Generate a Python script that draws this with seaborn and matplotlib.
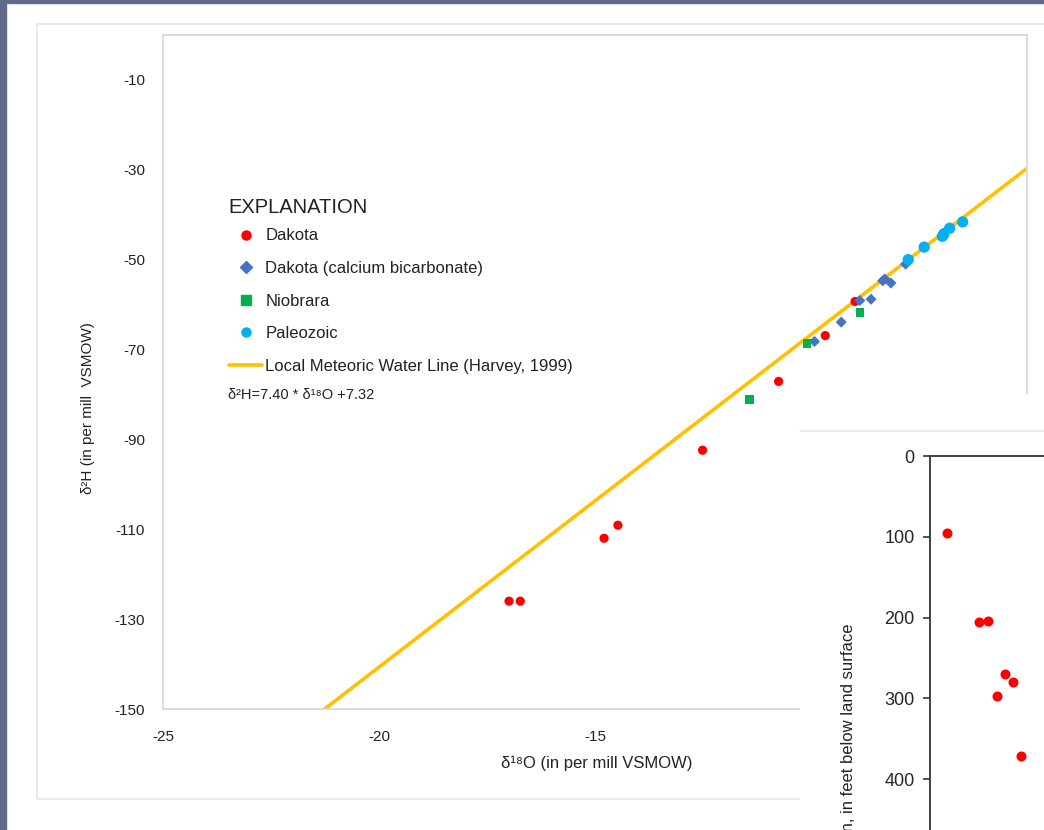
import numpy as np
import pandas as pd
import matplotlib
matplotlib.use("Agg")
import matplotlib.pyplot as plt
from matplotlib.patches import Rectangle
from matplotlib.lines import Line2D
import seaborn as sns

# Isotope data (delta 18O, delta 2H), per mill VSMOW
dakota_o18 = [-16.99, -16.73, -14.79, -14.47, -12.51, -10.75, -9.67, -8.98]
dakota_h2 = [-126.0, -126.0, -112.0, -109.1, -92.4, -77.1, -66.9, -59.3]

cabic_o18 = [-9.92, -9.30, -8.87, -8.61, -8.34, -8.29, -8.15, -7.81]
cabic_h2 = [-68.2, -63.9, -59.1, -58.8, -54.7, -54.3, -55.2, -51.0]

niobrara_o18 = [-11.42, -10.09, -8.87]
niobrara_h2 = [-81.1, -68.6, -61.8]

paleo_o18 = [-7.75, -7.38, -6.96, -6.92, -6.79, -6.49]
paleo_h2 = [-50.0, -47.2, -44.8, -44.2, -43.0, -41.6]

# Local meteoric water line (Harvey, 1999)
lmwl_slope = 7.40
lmwl_intercept = 7.32
lmwl_o18 = [-25, -5]

# inset: Dakota samples vs depth
inset_x = [0.83, 2.47, 2.92, 3.33, 3.75, 4.13, 4.55]
inset_depth = [95, 206, 204, 297, 270, 280, 371]

groups = ["Dakota", "Dakota (calcium bicarbonate)", "Niobrara", "Paleozoic"]
colors = {"Dakota": "#ff0000", "Dakota (calcium bicarbonate)": "#4472c4",
          "Niobrara": "#00b050", "Paleozoic": "#00b0f0"}
markers = {"Dakota": "o", "Dakota (calcium bicarbonate)": "D",
           "Niobrara": "s", "Paleozoic": "o"}
sizes = {"Dakota": 44, "Dakota (calcium bicarbonate)": 32,
         "Niobrara": 38, "Paleozoic": 66}

df = pd.concat([
    pd.DataFrame({"o18": dakota_o18, "h2": dakota_h2, "group": groups[0]}),
    pd.DataFrame({"o18": cabic_o18, "h2": cabic_h2, "group": groups[1]}),
    pd.DataFrame({"o18": niobrara_o18, "h2": niobrara_h2, "group": groups[2]}),
    pd.DataFrame({"o18": paleo_o18, "h2": paleo_h2, "group": groups[3]}),
], ignore_index=True)

sns.set_style("white")
narrow = ["Liberation Sans Narrow", "Liberation Sans", "DejaVu Sans"]
plt.rcParams["font.family"] = narrow
plt.rcParams["axes.unicode_minus"] = False

W, H = 1044, 830
fig = plt.figure(figsize=(W / 100, H / 100), dpi=100)


def fx(px):
    return px / W


def fy(py):
    return 1 - py / H


# page decoration
fig.add_artist(Rectangle((0, 0), fx(6), 1, transform=fig.transFigure,
                         color="#606b8c", zorder=-5))
fig.add_artist(Rectangle((0, fy(3)), 1, 3 / H, transform=fig.transFigure,
                         color="#606b8c", zorder=-5))
fig.add_artist(Rectangle((fx(37), fy(799)), fx(1100 - 37), (799 - 24) / H,
                         transform=fig.transFigure, fill=False,
                         edgecolor="#e6e6e6", linewidth=1.2, zorder=-4))

# main chart
ax = fig.add_axes([fx(163), fy(709), (1027 - 163) / W, (709 - 35) / H])
lmwl_h2 = [lmwl_slope * v + lmwl_intercept for v in lmwl_o18]
sns.lineplot(x=lmwl_o18, y=lmwl_h2, ax=ax, color="#ffc000", linewidth=2.6,
             zorder=2)
sns.scatterplot(data=df, x="o18", y="h2", hue="group", style="group",
                size="group", palette=colors, markers=markers, sizes=sizes,
                linewidth=0, legend=False, ax=ax, zorder=3)

ax.set_xlim(-25, -5)
ax.set_ylim(-150, 0)
ax.set_xticks(np.arange(-25, -4, 5))
ax.set_yticks(np.arange(-150, 0, 20))
for s in ax.spines.values():
    s.set_color("#d9d9d9")
    s.set_linewidth(1.3)
ax.tick_params(axis="both", direction="in", length=4, width=1,
               color="#bfbfbf", labelsize=11, labelcolor="#222222")
ax.tick_params(axis="x", pad=15)
ax.tick_params(axis="y", pad=13)
ax.set_xlabel("")
ax.set_ylabel("")

fig.text(fx(597), fy(763), "δ¹⁸O (in per mill VSMOW)", ha="center",
         va="center", fontsize=12, color="#222222")
fig.text(fx(88), fy(408), "δ²H (in per mill  VSMOW)", ha="center",
         va="center", rotation=90, fontsize=11, color="#222222")

# legend
fig.text(fx(228), fy(207), "EXPLANATION", ha="left", va="center",
         fontsize=14.5, color="#222222")
handles = [Line2D([], [], linestyle="none", marker=markers[g], color=colors[g],
                  markersize=6.5 if g != groups[1] else 5.8) for g in groups]
handles.append(Line2D([], [], color="#ffc000", linewidth=2.6))
labels = groups + ["Local Meteoric Water Line (Harvey, 1999)"]
leg = ax.legend(handles, labels, loc="upper left",
                bbox_to_anchor=(fx(229), fy(228.5)),
                bbox_transform=fig.transFigure, frameon=False,
                fontsize=12, borderpad=0, borderaxespad=0,
                handlelength=2.0, handletextpad=0.18, labelspacing=1.05)
for t in leg.get_texts():
    t.set_color("#222222")
fig.text(fx(228), fy(395), "δ²H=7.40 * δ¹⁸O +7.32", ha="left", va="center",
         fontsize=10.5, color="#222222")

# inset chart pasted over the lower right
fig.add_artist(Rectangle((fx(800), 0), 1, fy(395), transform=fig.transFigure,
                         color="white", zorder=2))
fig.add_artist(Line2D([fx(800), 1], [fy(431), fy(431)],
                      transform=fig.transFigure, color="#e6e6e6",
                      linewidth=1.2, zorder=2.5))

ax2 = fig.add_axes([fx(930), fy(860), 400 / W, 404 / H], zorder=3)
ax2.patch.set_alpha(0)
sns.scatterplot(x=inset_x, y=inset_depth, ax=ax2, color="#ff0000", s=52,
                linewidth=0, legend=False)
ax2.set_xlim(0, 20)
ax2.set_ylim(500, 0)
ax2.set_yticks(np.arange(0, 401, 100))
ax2.set_xticks([])
for side in ["bottom", "right"]:
    ax2.spines[side].set_visible(False)
for side in ["left", "top"]:
    ax2.spines[side].set_color("#333333")
    ax2.spines[side].set_linewidth(1.3)
ax2.tick_params(axis="y", direction="out", length=5, width=1.2,
                color="#333333", labelsize=13, pad=6, left=True)
fig.text(fx(849), fy(623), "Depth of well completion, in feet below land surface",
         ha="center", va="top", rotation=90, fontsize=12, color="#222222",
         family=["Liberation Sans", "DejaVu Sans"])

fig.savefig("out.png", dpi=100)
